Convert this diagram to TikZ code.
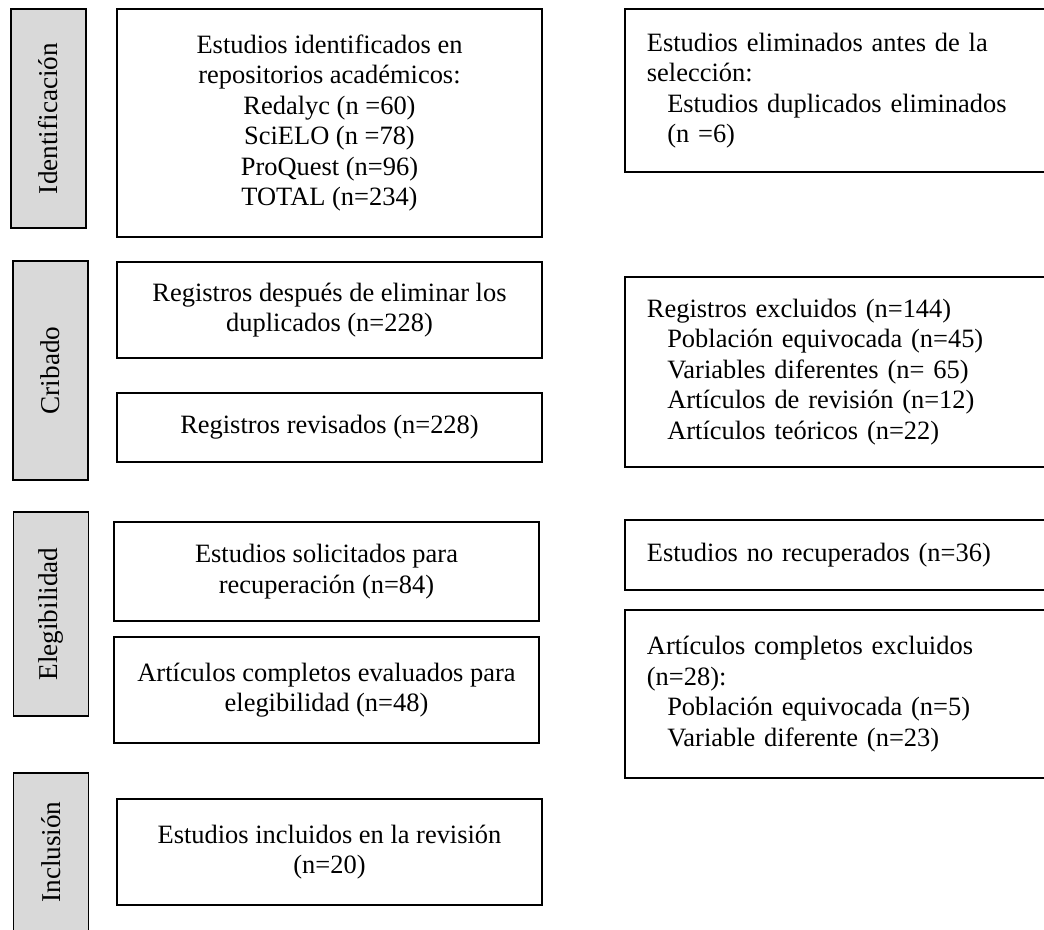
\documentclass[tikz,border=0pt]{standalone}
\usepackage{fontspec}
\setmainfont{Liberation Serif}
\definecolor{boxgray}{HTML}{D9D9D9}
\def\pxu{0.467pt}
\newcommand\fsz{\fontsize{12.35pt}{14.2pt}\selectfont}
\newcommand\lsz{\fontsize{12.7pt}{14.2pt}\selectfont}
\newcommand\ind{\hspace*{9.5pt}}
\begin{document}
\begin{tikzpicture}[x=0.467pt, y=-0.467pt,
  mainbox/.style={draw, line width=0.75pt, inner sep=0pt, align=center, font=\fsz, minimum width=425*\pxu},
  graybox/.style={draw, fill=boxgray, line width=0.9pt, rotate=90, inner sep=0pt, font=\lsz, minimum height=75*\pxu},
  sidebox/.style={draw, line width=0.75pt, inner xsep=10.3pt, inner ysep=0pt, align=left, text width=178pt, font=\fsz}]
\useasboundingbox (0,0) rectangle (1044,929);
\clip (0,0) rectangle (1044,929);
\fill[white] (0,0) rectangle (1044,929);

% stage labels
\node[graybox, minimum width=219*\pxu] (gId) at (48.5,118.5) {Identificación};
\node[graybox, minimum width=219*\pxu] (gCr) at (50.5,370.5) {Cribado};
\node[graybox, minimum width=204*\pxu] (gEl) at (51,614) {Elegibilidad};
\node[graybox, minimum width=158*\pxu] (gIn) at (51,852) {Inclusión};

% main column
\node[mainbox, minimum height=228*\pxu] (m1) at (329.5,123) {Estudios identificados en\\repositorios académicos:\\Redalyc (n =60)\\SciELO (n =78)\\ProQuest (n=96)\\TOTAL (n=234)};
\node[mainbox, minimum height=96*\pxu] (m2) at (329.5,310) {Registros después de eliminar los\\duplicados (n=228)};
\node[mainbox, minimum height=69*\pxu] (m3) at (329.5,427.5) {Registros revisados (n=228)};
\node[mainbox, minimum height=99*\pxu] (m4) at (326.5,571.5) {Estudios solicitados para\\recuperación (n=84)};
\node[mainbox, minimum height=106*\pxu] (m5) at (326.5,690) {Artículos completos evaluados para\\elegibilidad (n=48)};
\node[mainbox, minimum height=106*\pxu] (m6) at (329.5,852) {Estudios incluidos en la revisión\\(n=20)};

% side column
\node[sidebox, minimum height=163*\pxu] (s1) at (837.5,90.5) {Estudios eliminados antes de la\\selección:\\\ind Estudios duplicados eliminados\\\ind (n =6)};
\node[sidebox, minimum height=190*\pxu] (s2) at (837.5,372) {Registros excluidos (n=144)\\\ind Población equivocada (n=45)\\\ind Variables diferentes (n= 65)\\\ind Artículos de revisión (n=12)\\\ind Artículos teóricos (n=22)};
\node[sidebox, minimum height=70*\pxu] (s3) at (837.5,555) {Estudios no recuperados (n=36)};
\node[sidebox, minimum height=168*\pxu] (s4) at (837.5,694) {Artículos completos excluidos\\(n=28):\\\ind Población equivocada (n=5)\\\ind Variable diferente (n=23)};
\end{tikzpicture}
\end{document}
